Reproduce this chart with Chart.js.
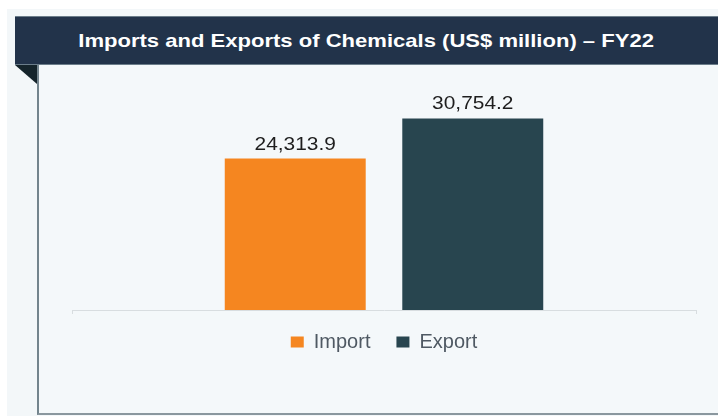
<!DOCTYPE html>
<html>
<head>
<meta charset="utf-8">
<script src="https://cdn.jsdelivr.net/npm/chart.js@4.4.1/dist/chart.umd.min.js"></script>
<style>
    body { margin: 0; background: #ffffff; width: 718px; height: 416px; overflow: hidden; font-family: "Liberation Sans", Arial, sans-serif; }
    .outer { position: absolute; left: 7px; top: 9px; width: 711px; height: 407px; background: #f3f7f9; }
    .header { position: absolute; left: 15px; top: 16px; width: 703px; height: 47px; background: #22334a;
        border-top: 1px solid #6b7d8a; border-bottom: 1px solid #6b7d8a;
        color: #ffffff; font-weight: bold; font-size: 19px; line-height: 47px; text-align: center; }
    .header span { display: inline-block; transform: scaleX(1.16); }
    .fold { position: absolute; left: 15px; top: 65px; width: 0; height: 0;
        border-top: 19px solid #15242b; border-left: 22px solid transparent; }
    .panel { position: absolute; left: 37px; top: 65px; width: 679px; height: 348px; background: #f4f8fa;
        border-left: 2px solid #73848d; border-bottom: 2px solid #8a979e; }
    .chart-box { position: absolute; left: 39px; top: 65px; width: 679px; height: 348px; }
</style>
</head>
<body>
<div class="outer"></div>
<div class="header"><span>Imports and Exports of Chemicals (US$ million) – FY22</span></div>
<div class="fold"></div>
<div class="panel"></div>
<div class="chart-box"><canvas id="tradeChart"></canvas></div>

<script>
// Chart data
const categories = ['FY22'];
const seriesNames = ['Import', 'Export'];
const importValues = [24313.9];
const exportValues = [30754.2];
const seriesColors = ['#f58620', '#28454f'];

// Draw value labels above each bar (slightly widened like the original)
const valueLabels = {
    id: 'valueLabels',
    afterDatasetsDraw(chart) {
        const ctx = chart.ctx;
        chart.data.datasets.forEach((ds, i) => {
            chart.getDatasetMeta(i).data.forEach((bar, j) => {
                const text = ds.data[j].toLocaleString('en-US', { minimumFractionDigits: 1, maximumFractionDigits: 1 });
                ctx.save();
                ctx.translate(bar.x, bar.y - 9);
                ctx.scale(1.1, 1);
                ctx.font = '19px "Liberation Sans", Arial, sans-serif';
                ctx.fillStyle = '#1e1e1e';
                ctx.textAlign = 'center';
                ctx.textBaseline = 'alphabetic';
                ctx.fillText(text, 0, 0);
                ctx.restore();
            });
        });
    }
};

const ctx = document.getElementById('tradeChart').getContext('2d');
new Chart(ctx, {
    type: 'bar',
    data: {
        labels: categories,
        datasets: [
            { label: seriesNames[0], data: importValues, backgroundColor: seriesColors[0] },
            { label: seriesNames[1], data: exportValues, backgroundColor: seriesColors[1] }
        ]
    },
    options: {
        responsive: true,
        maintainAspectRatio: false,
        animation: false,
        categoryPercentage: 0.569,
        barPercentage: 0.794,
        layout: { padding: { top: 27, bottom: 47, left: 33, right: 22 } },
        plugins: {
            legend: {
                position: 'bottom',
                labels: {
                    boxWidth: 13,
                    boxHeight: 11,
                    padding: 26,
                    color: '#4f5963',
                    font: { family: '"Liberation Sans", Arial, sans-serif', size: 20 }
                }
            },
            tooltip: { enabled: false }
        },
        scales: {
            x: {
                grid: { display: true, drawOnChartArea: false, drawTicks: true, tickLength: 4, color: '#d8dde0' },
                border: { display: true, color: '#d8dde0', width: 1 },
                ticks: { display: false },
                // pull the legend up against the axis line
                afterFit(scale) { scale.height = -4; }
            },
            y: {
                display: false,
                min: 0,
                max: 35000
            }
        }
    },
    plugins: [valueLabels]
});
</script>
</body>
</html>
